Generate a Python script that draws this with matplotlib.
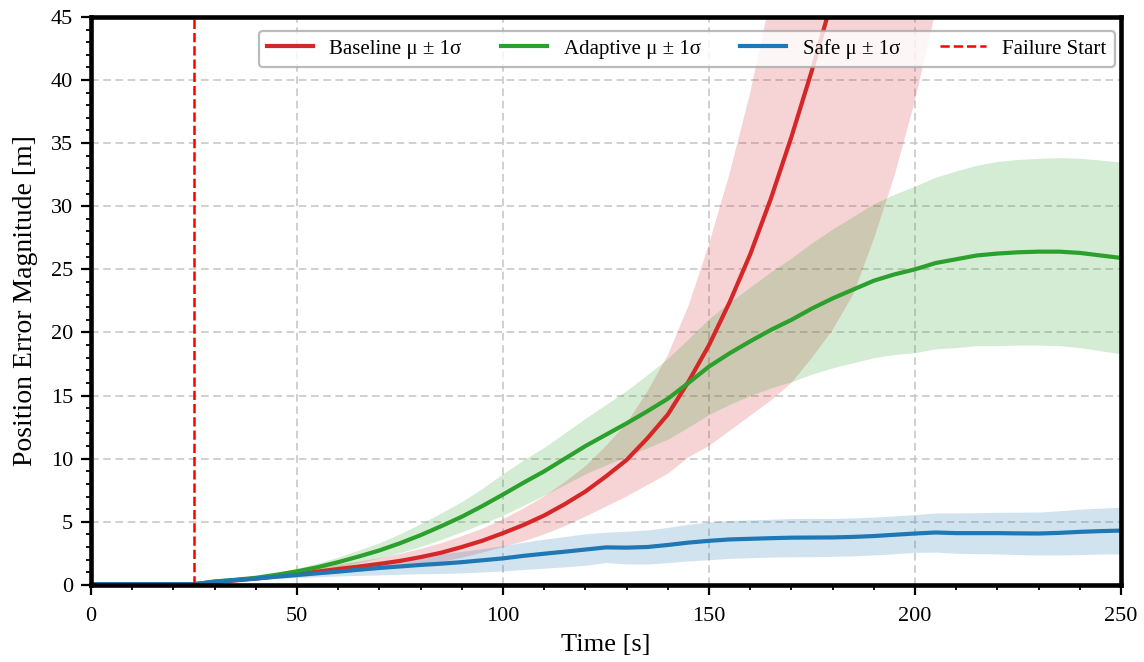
import numpy as np
import matplotlib.pyplot as plt
from matplotlib.ticker import MultipleLocator

plt.rcParams['font.family'] = ['Liberation Serif', 'DejaVu Serif']

# time axis, one sample every 5 s
time_s = np.arange(0, 255, 5)
failure_start = 25

baseline_mean = [0.05, 0.05, 0.05, 0.05, 0.05, 0.05, 0.2, 0.35, 0.5, 0.68,
                 0.86, 1.05, 1.26, 1.45, 1.66, 1.9, 2.2, 2.55, 3.0, 3.5,
                 4.1, 4.75, 5.5, 6.4, 7.4, 8.6, 9.9, 11.6, 13.5, 16.1,
                 19.0, 22.4, 26.2, 30.6, 35.5, 40.8, 46.5, 53.0, 60.0, 68.0,
                 76.0, 85.0, 94.0, 103.0, 113.0, 123.0, 134.0, 145.0, 157.0, 169.0,
                 182.0]
baseline_std = [0.0, 0.0, 0.0, 0.0, 0.0, 0.0, 0.05, 0.1, 0.15, 0.2,
                0.25, 0.3, 0.35, 0.4, 0.45, 0.55, 0.65, 0.75, 0.85, 0.95,
                1.1, 1.3, 1.5, 1.75, 2.0, 2.4, 2.9, 3.7, 4.7, 6.0,
                8.0, 10.2, 12.8, 16.0, 19.5, 22.8, 26.3, 30.0, 32.6, 35.6,
                37.6, 39.5, 41.5, 43.5, 45.5, 47.5, 49.5, 51.5, 53.5, 55.5,
                57.5]

adaptive_mean = [0.05, 0.05, 0.05, 0.05, 0.05, 0.05, 0.27, 0.4, 0.56, 0.8,
                 1.07, 1.4, 1.8, 2.25, 2.73, 3.3, 3.94, 4.65, 5.4, 6.25,
                 7.16, 8.1, 9.0, 10.0, 11.0, 11.9, 12.8, 13.75, 14.75, 16.0,
                 17.3, 18.35, 19.3, 20.2, 21.0, 21.9, 22.7, 23.4, 24.1, 24.6,
                 25.0, 25.5, 25.8, 26.1, 26.25, 26.35, 26.4, 26.4, 26.3, 26.1,
                 25.9]
adaptive_std = [0.0, 0.0, 0.0, 0.0, 0.0, 0.0, 0.05, 0.08, 0.12, 0.18,
                0.25, 0.32, 0.4, 0.5, 0.6, 0.75, 0.9, 1.05, 1.2, 1.4,
                1.65, 1.8, 1.9, 2.05, 2.2, 2.4, 2.6, 2.9, 3.2, 3.5,
                3.8, 4.05, 4.3, 4.6, 4.9, 5.2, 5.5, 5.8, 6.1, 6.35,
                6.6, 6.8, 7.0, 7.15, 7.3, 7.35, 7.4, 7.45, 7.5, 7.55,
                7.6]

safe_mean = [0.05, 0.05, 0.05, 0.05, 0.05, 0.05, 0.25, 0.38, 0.5, 0.65,
             0.78, 0.92, 1.05, 1.2, 1.34, 1.46, 1.58, 1.68, 1.8, 1.95,
             2.1, 2.3, 2.47, 2.63, 2.8, 2.97, 2.95, 3.0, 3.16, 3.35,
             3.49, 3.6, 3.65, 3.7, 3.74, 3.75, 3.76, 3.8, 3.87, 3.97,
             4.07, 4.15, 4.1, 4.1, 4.1, 4.08, 4.07, 4.12, 4.2, 4.26,
             4.3]
safe_std = [0.0, 0.0, 0.0, 0.0, 0.0, 0.0, 0.03, 0.06, 0.1, 0.15,
            0.2, 0.28, 0.35, 0.45, 0.55, 0.62, 0.7, 0.78, 0.85, 0.93,
            1.0, 1.08, 1.15, 1.2, 1.25, 1.2, 1.3, 1.35, 1.4, 1.45,
            1.5, 1.5, 1.5, 1.5, 1.52, 1.52, 1.5, 1.5, 1.5, 1.5,
            1.5, 1.55, 1.6, 1.62, 1.65, 1.68, 1.7, 1.75, 1.8, 1.82,
            1.85]

series = [
    ('Baseline', baseline_mean, baseline_std, '#d62728'),
    ('Adaptive', adaptive_mean, adaptive_std, '#2ca02c'),
    ('Safe', safe_mean, safe_std, '#1f77b4'),
]

fig = plt.figure(figsize=(11.44, 6.62), dpi=100)
ax = fig.add_axes([0.0795, 0.1165, 0.9005, 0.858])

for name, mu, sd, col in series:
    mu = np.array(mu)
    sd = np.array(sd)
    ax.fill_between(time_s, mu - sd, mu + sd, color=col, alpha=0.2, linewidth=0)
    ax.plot(time_s, mu, color=col, linewidth=3.0, solid_joinstyle='round',
            label=f'{name} μ ± 1σ')

ax.axvline(failure_start, color='red', linestyle='--', linewidth=1.8, label='Failure Start')

ax.set_xlim(0, 250)
ax.set_ylim(0, 45)
ax.xaxis.set_major_locator(MultipleLocator(50))
ax.xaxis.set_minor_locator(MultipleLocator(10))
ax.yaxis.set_major_locator(MultipleLocator(5))
ax.yaxis.set_minor_locator(MultipleLocator(1))
ax.tick_params(which='major', length=7, width=1.6, labelsize=16, pad=6)
ax.tick_params(which='minor', length=3.8, width=1.3)
ax.tick_params(axis='x', which='major', pad=9)

ax.set_axisbelow(True)
ax.grid(True, which='major', linestyle='--', color='#c4c4c4', linewidth=1.1, dashes=(5, 3))
for sp in ax.spines.values():
    sp.set_linewidth(3.3)

ax.set_xlabel('Time [s]', fontsize=19, labelpad=6)
ax.set_ylabel('Position Error Magnitude [m]', fontsize=20, labelpad=9)

leg = ax.legend(loc='upper right', bbox_to_anchor=(1.0, 0.987), ncol=4, fontsize=15,
                frameon=True, fancybox=True, framealpha=0.8, edgecolor='#aaaaaa',
                handlelength=2.2, columnspacing=1.9, borderaxespad=0.3)
leg.get_frame().set_linewidth(1.6)

fig.savefig('out.png', dpi=100)
